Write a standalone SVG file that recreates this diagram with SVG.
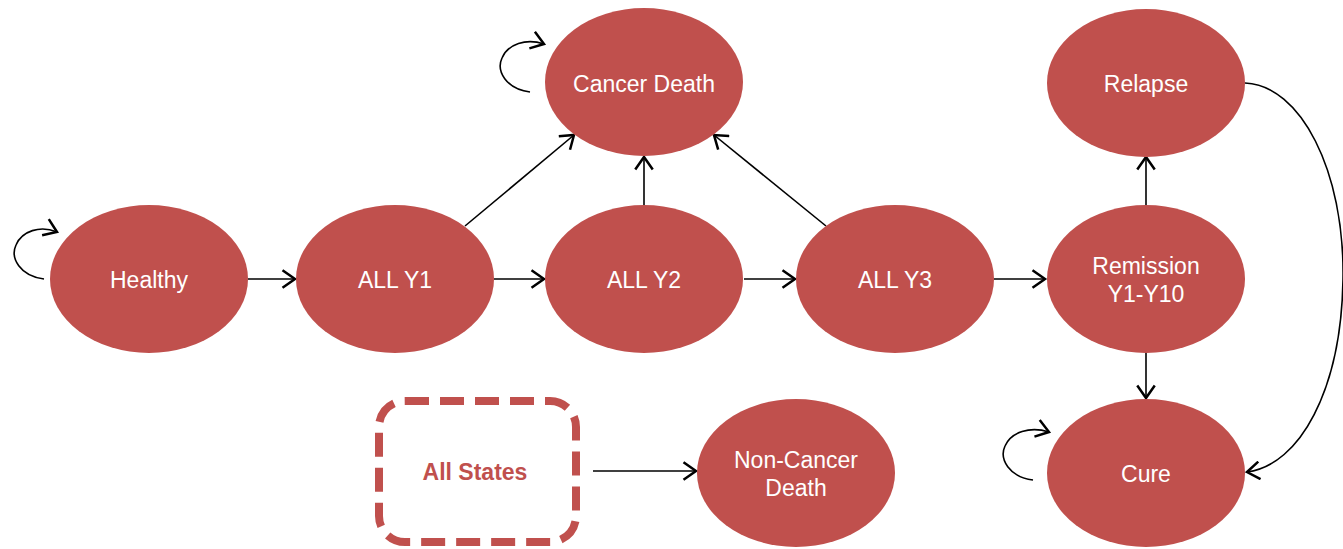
<svg xmlns="http://www.w3.org/2000/svg" width="1343" height="549" viewBox="0 0 1343 549">
<defs>
<marker id="arr" markerUnits="userSpaceOnUse" markerWidth="20" markerHeight="20" viewBox="-12 -8 14 16" refX="0" refY="0" orient="auto">
<path d="M-10,-7 L0,0 L-10,7" fill="none" stroke="#000" stroke-width="2"/>
</marker>
</defs>
<style>
.n{fill:#C0504D}
.t{fill:#fff;font-family:"Liberation Sans",Arial,sans-serif;font-size:23px;text-anchor:middle}
.c{fill:none;stroke:#000;stroke-width:1.6;marker-end:url(#arr)}
</style>
<rect width="1343" height="549" fill="#fff"/>
<g id="connectors">
<line class="c" x1="248" y1="279" x2="295" y2="279"/>
<line class="c" x1="494" y1="279" x2="544" y2="279"/>
<line class="c" x1="744" y1="279" x2="795" y2="279"/>
<line class="c" x1="994" y1="279" x2="1045" y2="279"/>
<line class="c" x1="465" y1="226" x2="574" y2="135"/>
<line class="c" x1="644" y1="205" x2="644" y2="157"/>
<line class="c" x1="826" y1="226" x2="714" y2="135"/>
<line class="c" x1="1146" y1="205" x2="1146" y2="157"/>
<line class="c" x1="1146" y1="353" x2="1146" y2="398"/>
<line class="c" x1="593" y1="471" x2="696" y2="471"/>
<path class="c" d="M1245,83 C1300,85 1345,170 1343,280 C1341,390 1300,465 1247,472"/>
<path class="c" d="M44,279 C20,276 10,258 16,245 C22,231 40,225 57,232"/>
<path class="c" d="M530,92 C506,89 496,71 502,58 C508,44 526,38 544,44"/>
<path class="c" d="M1033,480 C1009,477 999,459 1005,446 C1011,432 1030,426 1049,432"/>
</g>
<g id="healthy"><ellipse class="n" cx="149" cy="279" rx="99" ry="74"/><text class="t" x="149" y="288">Healthy</text></g>
<g id="all-y1"><ellipse class="n" cx="395" cy="279" rx="99" ry="74"/><text class="t" x="395" y="288">ALL Y1</text></g>
<g id="all-y2"><ellipse class="n" cx="644" cy="279" rx="99" ry="74"/><text class="t" x="644" y="288">ALL Y2</text></g>
<g id="all-y3"><ellipse class="n" cx="895" cy="279" rx="99" ry="74"/><text class="t" x="895" y="288">ALL Y3</text></g>
<g id="remission"><ellipse class="n" cx="1146" cy="279" rx="99" ry="74"/><text class="t" x="1146" y="274">Remission</text><text class="t" x="1146" y="302">Y1-Y10</text></g>
<g id="cancer-death"><ellipse class="n" cx="644" cy="82" rx="99" ry="74"/><text class="t" x="644" y="92">Cancer Death</text></g>
<g id="relapse"><ellipse class="n" cx="1146" cy="83" rx="99" ry="74"/><text class="t" x="1146" y="92">Relapse</text></g>
<g id="cure"><ellipse class="n" cx="1146" cy="473" rx="99" ry="74"/><text class="t" x="1146" y="482">Cure</text></g>
<g id="non-cancer-death"><ellipse class="n" cx="796" cy="473" rx="99" ry="74"/><text class="t" x="796" y="468">Non-Cancer</text><text class="t" x="796" y="496">Death</text></g>
<g id="all-states"><rect x="379" y="401" width="197" height="141" rx="26" fill="#fff" stroke="#C0504D" stroke-width="8" stroke-dasharray="24 11"/><text x="475" y="480" fill="#C0504D" font-family="'Liberation Sans',Arial,sans-serif" font-size="23" font-weight="bold" text-anchor="middle">All States</text></g>
</svg>
